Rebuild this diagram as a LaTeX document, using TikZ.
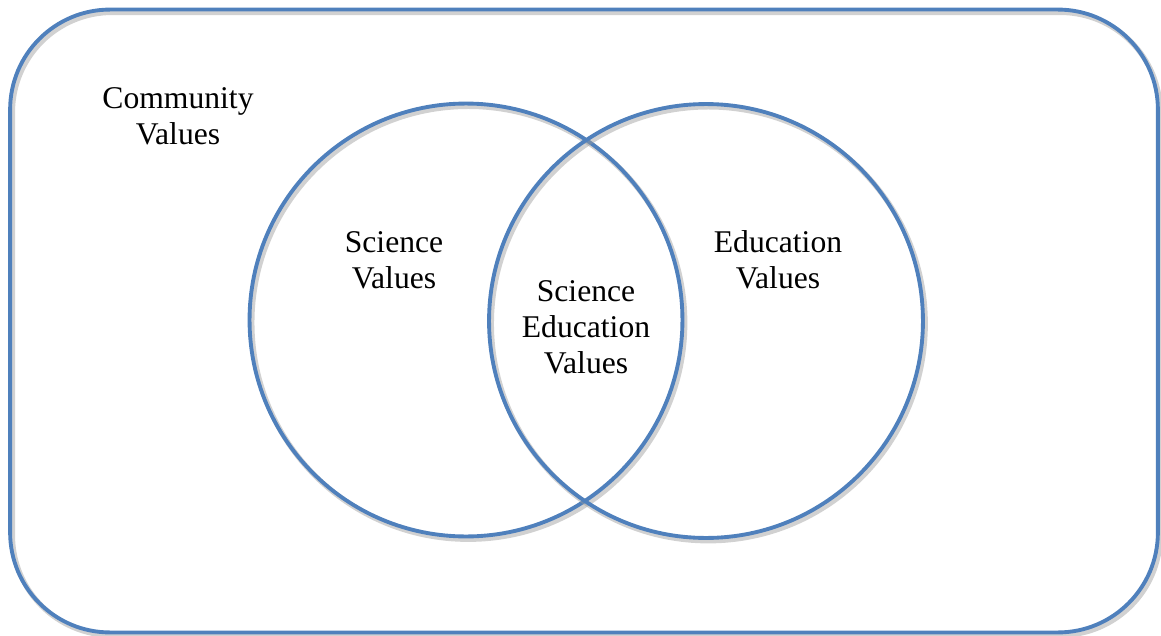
\documentclass[tikz,border=0pt]{standalone}
\usepackage{fontspec}
\setmainfont{Liberation Serif}
\usepackage{tikz}
\usetikzlibrary{
  positioning
}
\usepackage{xcolor}
\definecolor{officeBlue}{rgb}{0.30859375,0.50390625,0.73828125}
\definecolor{shadowGrey}{rgb}{0.6,0.6,0.6}
\tikzset{
  setline/.style={
    draw=officeBlue,
    line width=2.2pt,
    preaction={draw=shadowGrey, line width=3pt, opacity=0.45,
      transform canvas={shift={(1.3pt,-1.6pt)}}}
  },
  setlabel/.style={
    align=center,
    inner sep=0pt,
    font=\fontsize{18}{20.5}\selectfont
  }
}

\begin{document}
\begin{tikzpicture}[x=0.02cm, y=-0.02cm]
      \useasboundingbox (0,0) rectangle (1161,636);

      % outer set
      \node[setline, rectangle, rounded corners=2cm, minimum width=22.96cm,
        minimum height=12.46cm] (community) at (584,321) {};

      % the two circles
      \node[setline, circle, minimum size=8.66cm] (science) at (466,320) {};
      \node[setline, circle, minimum size=8.68cm] (education) at (706,321) {};

      \node[setlabel] (communityText) at (178,116) {Community\\Values};
      \node[setlabel] (scienceText) at (394,260) {Science\\Values};
      \node[setlabel] (educationText) at (778,260) {Education\\Values};
      \node[setlabel] (bothText) at (586,327) {Science\\Education\\Values};
\end{tikzpicture}
\end{document}
